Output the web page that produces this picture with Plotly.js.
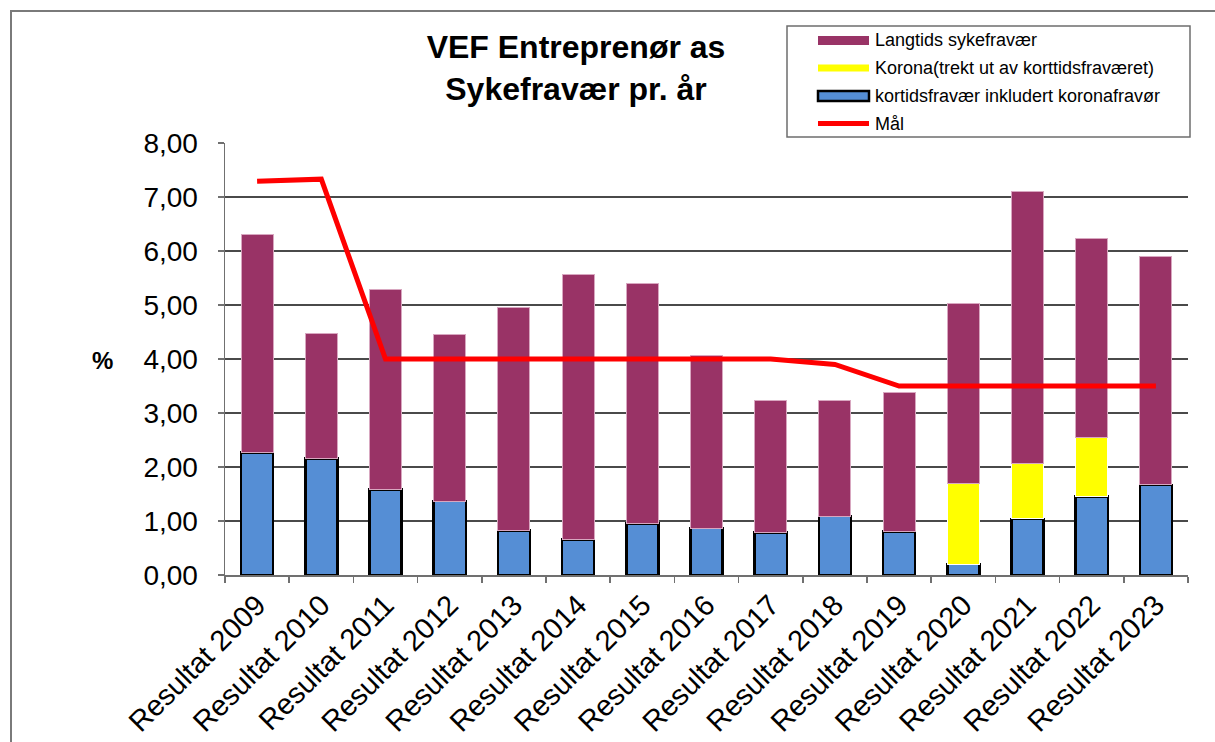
<!DOCTYPE html>
<html>
<head>
<meta charset="utf-8">
<script src="https://cdn.plot.ly/plotly-3.0.1.min.js"></script>
<style>
  html, body { margin: 0; padding: 0; background: #fff; }
  #frame { position: absolute; left: 10px; top: 10px; width: 1215px; height: 742px; border-left: 2px solid #7a7a7a; border-top: 2px solid #7a7a7a; box-sizing: border-box; pointer-events: none; z-index: 5; }
  #chart { position: absolute; left: 0; top: 0; width: 1215px; height: 742px; }
</style>
</head>
<body>
<div id="chart"></div>
<div id="frame"></div>
<script>
// ---- data ----
const categories = ["Resultat 2009","Resultat 2010","Resultat 2011","Resultat 2012","Resultat 2013","Resultat 2014","Resultat 2015","Resultat 2016","Resultat 2017","Resultat 2018","Resultat 2019","Resultat 2020","Resultat 2021","Resultat 2022","Resultat 2023"];
const kortids  = [2.27, 2.16, 1.58, 1.37, 0.82, 0.66, 0.95, 0.87, 0.79, 1.09, 0.81, 0.20, 1.04, 1.45, 1.67];
const korona   = [0, 0, 0, 0, 0, 0, 0, 0, 0, 0, 0, 1.50, 1.02, 1.09, 0];
const langtids = [4.04, 2.31, 3.71, 3.08, 4.14, 4.90, 4.44, 3.20, 2.44, 2.14, 2.57, 3.33, 5.04, 3.70, 4.23];
const maal     = [7.29, 7.33, 4.00, 4.00, 4.00, 4.00, 4.00, 4.00, 4.00, 3.90, 3.50, 3.50, 3.50, 3.50, 3.50];
const seriesNames = ["Langtids sykefravær", "Korona(trekt ut av korttidsfraværet)", "kortidsfravær inkludert koronafravør", "Mål"];
const titleLines = ["VEF Entreprenør as", "Sykefravær pr. år"];
const yTitle = "%";

const FONT = "Liberation Sans, Arial, sans-serif";
const PURPLE = "#993366", YELLOW = "#FFFF00", BLUE = "#558ED5", RED = "#FF0000";

const traces = [
  { type: "bar", name: seriesNames[2], x: categories, y: kortids,
    marker: { color: BLUE, line: { color: "#000", width: 2.5 } }, showlegend: false },
  { type: "bar", name: seriesNames[1], x: categories, y: korona,
    marker: { color: YELLOW, line: { color: "#ffffff", width: 1 } }, showlegend: false },
  { type: "bar", name: seriesNames[0], x: categories, y: langtids,
    marker: { color: PURPLE, line: { color: "#d8a7c0", width: 1 } }, showlegend: false },
  { type: "scatter", mode: "lines", name: seriesNames[3], x: categories, y: maal,
    line: { color: RED, width: 5 }, showlegend: false }
];

const W = 1215, H = 742;
const toPY = v => (575 - v) / 432, toPX = v => (v - 225) / 963;
const shapes = [
  { type: "rect", xref: "paper", yref: "paper", layer: "above",
    x0: toPX(787), x1: toPX(1190), y0: toPY(137), y1: toPY(26),
    line: { color: "#6e6e6e", width: 1.5 }, fillcolor: "#ffffff" }
];
const legendRows = [40.5, 68, 96, 123.5];
shapes.push({ type: "rect", xref: "paper", yref: "paper", layer: "above",
  x0: toPX(818), x1: toPX(869), y0: toPY(legendRows[0] + 4.5), y1: toPY(legendRows[0] - 4.5),
  line: { width: 0 }, fillcolor: PURPLE });
shapes.push({ type: "rect", xref: "paper", yref: "paper", layer: "above",
  x0: toPX(818), x1: toPX(869), y0: toPY(legendRows[1] + 3.5), y1: toPY(legendRows[1] - 3.5),
  line: { width: 0 }, fillcolor: YELLOW });
shapes.push({ type: "rect", xref: "paper", yref: "paper", layer: "above",
  x0: toPX(818), x1: toPX(869), y0: toPY(legendRows[2] + 5), y1: toPY(legendRows[2] - 5),
  line: { color: "#000", width: 2.5 }, fillcolor: BLUE });
shapes.push({ type: "line", xref: "paper", yref: "paper", layer: "above",
  x0: toPX(818), x1: toPX(869), y0: toPY(legendRows[3]), y1: toPY(legendRows[3]),
  line: { color: RED, width: 5 } });

const annotations = [0,1,2,3].map(i => ({
  xref: "paper", yref: "paper", x: toPX(873), y: toPY(legendRows[i]),
  xanchor: "left", yanchor: "middle", showarrow: false,
  text: seriesNames[i], font: { family: FONT, size: 18, color: "#000" }
}));
annotations.push({
  xref: "paper", yref: "paper", x: toPX(102), y: toPY(360), xanchor: "center", yanchor: "middle",
  showarrow: false, text: "<b>" + yTitle + "</b>", font: { family: FONT, size: 24, color: "#000" }
});

const layout = {
  width: W, height: H,
  margin: { l: 225, r: 27, t: 143, b: 167 },
  paper_bgcolor: "#fff", plot_bgcolor: "#fff",
  separators: ",.",
  barmode: "stack", bargap: 0.5,
  showlegend: false,
  font: { family: FONT, color: "#000" },
  title: { text: "<b>" + titleLines.join("<br>") + "</b>", xref: "container", yref: "container",
           x: 576 / W, xanchor: "center", y: 1 - 58 / H, yanchor: "top",
           font: { family: FONT, size: 32, color: "#000" } },
  xaxis: { type: "category", tickangle: -45, tickson: "boundaries", ticks: "outside", ticklen: 6,
           tickcolor: "#707070", tickwidth: 1.5, showline: true, linecolor: "#707070", linewidth: 1.5,
           showgrid: false, tickfont: { family: FONT, size: 29, color: "#000" } },
  yaxis: { range: [0, 8], dtick: 1, tickformat: ".2f", ticks: "outside", ticklen: 6, tickcolor: "#707070",
           tickwidth: 1.5, showline: true, linecolor: "#707070", linewidth: 1.5, showgrid: true,
           gridcolor: "#4a4a4a", gridwidth: 1.2, zeroline: false, ticklabelstandoff: 14,
           tickfont: { family: FONT, size: 28, color: "#000" } },
  shapes: shapes, annotations: annotations
};

Plotly.newPlot("chart", traces, layout, { displayModeBar: false, staticPlot: true });
</script>
</body>
</html>
